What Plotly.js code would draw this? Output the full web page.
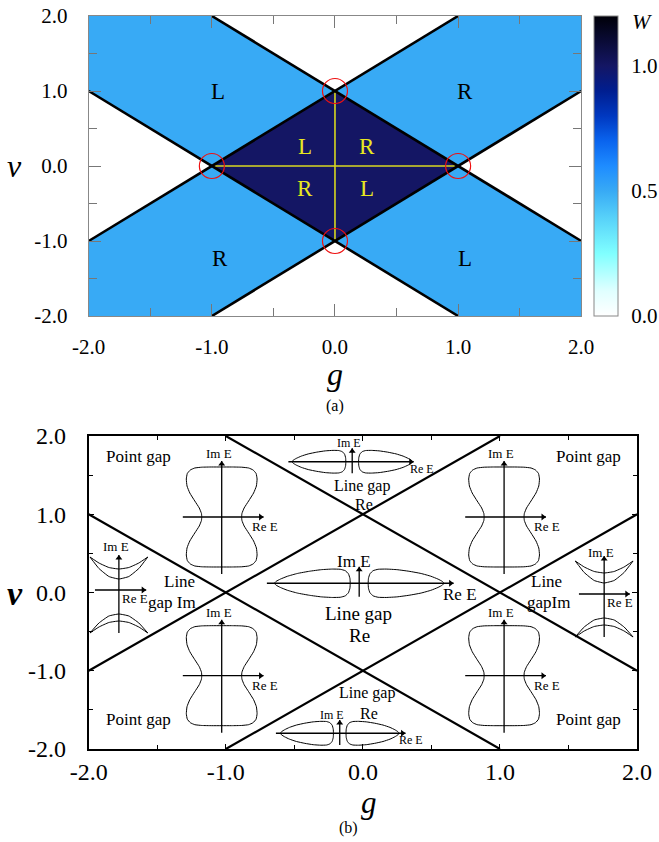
<!DOCTYPE html>
<html><head><meta charset="utf-8">
<script src="https://cdn.plot.ly/plotly-3.0.1.min.js"></script>
<style>html,body{margin:0;padding:0;background:#fff}#chart{width:659px;height:842px}</style>
</head><body><div id="chart"></div><script>
// ---------- figure frame (pixels) ----------
const FIG_W = 659, FIG_H = 842;
const TOP_FRAME = {x0: 89, x1: 583, y0: 16, y1: 316};
const BOT_FRAME = {x0: 89, x1: 639, y0: 436, y1: 749};
const CBAR = {x0: 596, x1: 620};

// ---------- axes ----------
const axisRange = [-2, 2];
const tickVals = [-2, -1, 0, 1, 2];
const tickText = ['-2.0', '-1.0', '0.0', '1.0', '2.0'];
const minorTickVals = [-1.5, -0.5, 0.5, 1.5];

// ---------- phase boundaries (g, v end points) ----------
const boundaryG = [[-2, 1], [-2, 1], [-1, 2], [-1, 2]];
const boundaryV = [[-1, 2], [1, -2], [-2, 1], [2, -1]];

// ---------- winding-number regions (panel a) ----------
const regionW = [1.0, 0.5, 0.5, 0.5, 0.5];
const regionG = [[-1, 0, 1, 0], [-2, -2, -1, 0, -1], [0, 1, 2, 2, 1], [-2, -1, 0, -1, -2], [0, 1, 2, 2, 1]];
const regionV = [[0, 1, 0, -1], [1, 2, 2, 1, 0], [1, 2, 2, 1, 0], [-1, 0, -1, -2, -2], [-1, 0, -1, -2, -2]];

// exceptional points
const epG = [-1, 0, 1, 0];
const epV = [0, 1, 0, -1];
// yellow cross
const yellowG = [-1, 1, null, 0, 0];
const yellowV = [0, 0, null, -1, 1];

// chirality labels
const outerText = ['L', 'R', 'R', 'L'];
const outerG = [-0.95, 1.06, -0.93, 1.055];
const outerV = [0.99, 0.99, -1.23, -1.23];
const innerText = ['L', 'R', 'R', 'L'];
const innerG = [-0.245, 0.262, -0.245, 0.262];
const innerV = [0.257, 0.257, -0.297, -0.297];

// colour bar
const cbRange = [0, 1.2];
const cbTickVals = [0, 0.5, 1.0];
const cbTickText = ['0.0', '0.5', '1.0'];
const wStops = [0, 0.1, 0.25, 0.4, 0.5, 0.6, 0.7, 0.8, 0.9, 1.0, 1.2];
const wColors = ['#ffffff', '#e0ffff', '#80ffff', '#55cff9', '#38aaf5', '#1e8cff', '#0a64ee', '#0038c0', '#001e90', '#141664', '#000008'];

// ---------- panel b : schematic spectra ----------
// point-gap insets (hourglass loops)
const pgG = [-1.03, 1.03, -1.03, 1.03];
const pgV = [0.965, 0.965, -1.063, -1.063];
const hourglassHalf = [[0,-50],[10,-50],[20,-49.8],[27,-49],[31.5,-47],[34.5,-43.5],[35.5,-38],[34.8,-31],[32,-24],[27,-16],[22.5,-9],[20.3,-3.5],[20,0],[20.3,3.5],[22.5,9],[27,16],[32,24],[34.8,31],[35.5,38],[34.5,43.5],[31.5,47],[27,49],[20,49.8],[10,50],[0,50]];
const hgAxisH = [-39, 42];
const hgAxisV = [57, -56];
const hgImLabel = [-3, -63];
const hgReLabel = [43, 10];

// real line-gap insets (two lobes)
const lrG = [-0.078, -0.027, -0.169];
const lrV = [1.671, 0.118, -1.799];
const lrScaleX = [0.71, 1, 0.70];
const lrScaleY = [0.8, 1, 0.84];
const lobeRight = [[9,0],[9.3,-5],[10.8,-9.5],[14,-12.6],[19,-14],[27,-14.2],[38,-13.6],[50,-12],[62,-9.8],[72,-7],[79,-4.2],[83.5,-1.8],[85,0],[83.5,1.8],[79,4.2],[72,7],[62,9.8],[50,12],[38,13.6],[27,14.2],[19,14],[14,12.6],[10.8,9.5],[9.3,5],[9,0]];
const lrAxisH = [[-64, 61.7], [-92.6, 94.7], [-64, 66]];
const lrAxisV = [[11.6, -13.4], [13.4, -16.6], [11.7, -13.3]];
const lrImLabel = [[-3.3, -18.5], [-5.3, -21.5], [-7.4, -18]];
const lrReLabel = [[70, 7.6], [101.4, 11.7], [71, 6.7]];
const lrFont = [12, 17, 12];

// imaginary line-gap insets (crescents)
const liG = [-1.78, 1.76];
const liV = [0.032, -0.019];
const crescentUpperOuter = [[-29,-33],[-20,-27],[-10,-22.5],[0,-21],[10,-22.5],[20,-27],[29,-33]];
const crescentUpperInner = [[-29,-33],[-20,-21.5],[-10,-13.5],[0,-11],[10,-13.5],[20,-21.5],[29,-33]];
const crescentLowerInner = [[-29,43],[-20,33],[-10,26],[0,24],[10,26],[20,33],[29,43]];
const crescentLowerOuter = [[-29,43],[-20,37],[-10,32.5],[0,31],[10,32.5],[20,37],[29,43]];
const liAxisH = [[-24, 27.4], [-25.3, 25.7]];
const liAxisV = [[43, -35], [43, -38]];
const liImLabel = [[-2.6, -43.3], [-3, -41.3]];
const liReLabel = [[15.7, 8.5], [15.7, 8.5]];

// regime labels
const regimeText = ['Point gap','Point gap','Point gap','Point gap','Line gap','Re','Line gap','Re','Line gap','Re','Line','gap Im','Line','gapIm'];
const regimeG = [-1.639, 1.649, -1.636, 1.649, -0.005, 0.007, -0.029, -0.025, 0.033, 0.044, -1.338, -1.389, 1.340, 1.353];
const regimeV = [1.744, 1.735, -1.62, -1.62, 1.36, 1.12, -0.27, -0.55, -1.29, -1.545, 0.14, -0.13, 0.14, -0.13];
const regimeSize = [17,17,17,17,16,16,19,19,16,16,17,17,17,17];

// ---------- helpers ----------
const serif = 'Liberation Serif, Times New Roman, serif';
const px = x => x / FIG_W;
const py = y => 1 - y / FIG_H;
function hexToRgb(h){return [parseInt(h.slice(1,3),16),parseInt(h.slice(3,5),16),parseInt(h.slice(5,7),16)];}
function colorAt(w){
  for(let i=0;i<wStops.length-1;i++){
    if(w<=wStops[i+1]){
      const t=(w-wStops[i])/(wStops[i+1]-wStops[i]);
      const a=hexToRgb(wColors[i]), b=hexToRgb(wColors[i+1]);
      return 'rgb('+a.map((v,k)=>Math.round(v+(b[k]-v)*t)).join(',')+')';
    }
  }
  return wColors[wColors.length-1];
}
const colorscale = wStops.map((s,i)=>[(s-cbRange[0])/(cbRange[1]-cbRange[0]), wColors[i]]);

const BX = (BOT_FRAME.x1-BOT_FRAME.x0)/(axisRange[1]-axisRange[0]);
const BY = (BOT_FRAME.y1-BOT_FRAME.y0)/(axisRange[1]-axisRange[0]);
function place(cx, cy, pts, sx, sy){
  sx = sx||1; sy = sy||1;
  return {x: pts.map(p=>cx+p[0]*sx/BX), y: pts.map(p=>cy-p[1]*sy/BY)};
}
function joinPaths(list){
  const out={x:[],y:[]};
  list.forEach((p,i)=>{ if(i){out.x.push(null);out.y.push(null);} out.x.push(...p.x); out.y.push(...p.y); });
  return out;
}
const mirror = pts => pts.map(p=>[-p[0],p[1]]);

const traces = [];
const annotations = [];
function ann(x, y, text, size, extra){
  annotations.push(Object.assign({x:x, y:y, xref:'x2', yref:'y2', text:text, showarrow:false,
    font:{family:serif, size:size, color:'#000'}, xanchor:'center', yanchor:'middle'}, extra||{}));
}

// ---------- panel a ----------
regionW.forEach((w,i)=>{
  traces.push({type:'scatter', mode:'lines', x:regionG[i].concat([regionG[i][0]]), y:regionV[i].concat([regionV[i][0]]),
    fill:'toself', fillcolor:colorAt(w), line:{width:0, color:colorAt(w)}, hoverinfo:'skip', xaxis:'x', yaxis:'y'});
});
traces.push({type:'scatter', mode:'lines', x:yellowG, y:yellowV, line:{color:'#d8d820', width:1.6}, hoverinfo:'skip', xaxis:'x', yaxis:'y'});
const bTop = joinPaths(boundaryG.map((g,i)=>({x:g, y:boundaryV[i]})));
traces.push({type:'scatter', mode:'lines', x:bTop.x, y:bTop.y, line:{color:'#000', width:2.6}, hoverinfo:'skip', xaxis:'x', yaxis:'y'});
traces.push({type:'scatter', mode:'markers', x:epG, y:epV, marker:{symbol:'circle-open', size:25, color:'#ee1111', line:{width:1.2, color:'#ee1111'}}, hoverinfo:'skip', xaxis:'x', yaxis:'y'});
traces.push({type:'scatter', mode:'markers', x:[0], y:[0], marker:{size:1, opacity:0, color:[0], cmin:cbRange[0], cmax:cbRange[1], colorscale:colorscale, showscale:true,
  colorbar:{thickness:CBAR.x1-CBAR.x0, thicknessmode:'pixels', len:TOP_FRAME.y1-TOP_FRAME.y0, lenmode:'pixels', x:px(CBAR.x0), xanchor:'left',
    y:py((TOP_FRAME.y0+TOP_FRAME.y1)/2), yanchor:'middle', xpad:0, ypad:0, outlinewidth:1, outlinecolor:'#888',
    tickvals:cbTickVals, ticktext:cbTickText, ticks:'outside', ticklen:9, tickcolor:'rgba(0,0,0,0)', tickfont:{family:serif, size:21, color:'#000'}}},
  hoverinfo:'skip', xaxis:'x', yaxis:'y'});
outerText.forEach((t,i)=>annotations.push({x:outerG[i], y:outerV[i], xref:'x', yref:'y', text:t, showarrow:false, font:{family:serif, size:23, color:'#000'}}));
innerText.forEach((t,i)=>annotations.push({x:innerG[i], y:innerV[i], xref:'x', yref:'y', text:t, showarrow:false, font:{family:serif, size:23, color:'#e8e820'}}));

// ---------- panel b ----------
const bBot = joinPaths(boundaryG.map((g,i)=>({x:g, y:boundaryV[i]})));
traces.push({type:'scatter', mode:'lines', x:bBot.x, y:bBot.y, line:{color:'#000', width:2.2}, hoverinfo:'skip', xaxis:'x2', yaxis:'y2'});

const hourglass = hourglassHalf.concat(mirror(hourglassHalf).reverse().slice(1));
const curvePaths = [];
const axisPaths = [];
const heads = {x:[], y:[], s:[]};
function addAxes(cx, cy, h, v){
  axisPaths.push(place(cx, cy, [[h[0],0],[h[1],0]]));
  axisPaths.push(place(cx, cy, [[0,v[0]],[0,v[1]]]));
  const hh = place(cx, cy, [[h[1]-3,0]]); heads.x.push(hh.x[0]); heads.y.push(hh.y[0]); heads.s.push('triangle-right');
  const vh = place(cx, cy, [[0,v[1]+3]]); heads.x.push(vh.x[0]); heads.y.push(vh.y[0]); heads.s.push('triangle-up');
}
function labelAt(cx, cy, off, text, size){
  const p = place(cx, cy, [off]);
  ann(p.x[0], p.y[0], text, size);
}
pgG.forEach((g,i)=>{
  curvePaths.push(place(g, pgV[i], hourglass));
  addAxes(g, pgV[i], hgAxisH, hgAxisV);
  labelAt(g, pgV[i], hgImLabel, 'Im E', 13);
  labelAt(g, pgV[i], hgReLabel, 'Re E', 13);
});
lrG.forEach((g,i)=>{
  curvePaths.push(place(g, lrV[i], lobeRight, lrScaleX[i], lrScaleY[i]));
  curvePaths.push(place(g, lrV[i], mirror(lobeRight), lrScaleX[i], lrScaleY[i]));
  addAxes(g, lrV[i], lrAxisH[i], lrAxisV[i]);
  labelAt(g, lrV[i], lrImLabel[i], 'Im E', lrFont[i]);
  labelAt(g, lrV[i], lrReLabel[i], 'Re E', lrFont[i]);
});
liG.forEach((g,i)=>{
  [crescentUpperOuter, crescentUpperInner, crescentLowerInner, crescentLowerOuter].forEach(c=>curvePaths.push(place(g, liV[i], c)));
  addAxes(g, liV[i], liAxisH[i], liAxisV[i]);
  labelAt(g, liV[i], liImLabel[i], 'Im E', 13);
  labelAt(g, liV[i], liReLabel[i], 'Re E', 13);
});
const curves = joinPaths(curvePaths);
traces.push({type:'scatter', mode:'lines', x:curves.x, y:curves.y, line:{color:'#000', width:1, shape:'spline', smoothing:0.4}, hoverinfo:'skip', xaxis:'x2', yaxis:'y2'});
const axesP = joinPaths(axisPaths);
traces.push({type:'scatter', mode:'lines', x:axesP.x, y:axesP.y, line:{color:'#000', width:1.3}, hoverinfo:'skip', xaxis:'x2', yaxis:'y2'});
traces.push({type:'scatter', mode:'markers', x:heads.x, y:heads.y, marker:{symbol:heads.s, size:6, color:'#000', line:{width:0}}, hoverinfo:'skip', xaxis:'x2', yaxis:'y2'});
regimeText.forEach((t,i)=>ann(regimeG[i], regimeV[i], t, regimeSize[i]));

// ---------- axis titles & panel labels ----------
function paperAnn(x, y, text, size){
  annotations.push({x:px(x), y:py(y), xref:'paper', yref:'paper', text:text, showarrow:false, font:{family:serif, size:size, color:'#000'}, xanchor:'center', yanchor:'middle'});
}
paperAnn(15, 166, '<i>v</i>', 32);
paperAnn(336, 374, '<i>g</i>', 32);
paperAnn(336, 406, '(a)', 16);
paperAnn(644, 22, '<i>W</i>', 22);
paperAnn(15, 593, '<b><i>v</i></b>', 34);
paperAnn(370, 802, '<i>g</i>', 31);
paperAnn(350, 828, '(b)', 16);

// dashed ticks inside the colour bar
const cbShapes = cbTickVals.filter(v=>v>0).map(v=>{
  const yy = TOP_FRAME.y1 - (v-cbRange[0])/(cbRange[1]-cbRange[0])*(TOP_FRAME.y1-TOP_FRAME.y0);
  return {type:'line', xref:'paper', yref:'paper', x0:px(CBAR.x0), x1:px(CBAR.x1), y0:py(yy), y1:py(yy), line:{color:'rgba(20,20,70,0.85)', width:1, dash:'9px,8px'}};
});

function axisStyle(domain, anchor, opts){
  return Object.assign({domain:domain, anchor:anchor, range:axisRange, tickvals:tickVals, ticktext:tickText,
    showgrid:false, zeroline:false, showline:true, mirror:'ticks', layer:'above traces', fixedrange:true}, opts);
}
const layout = {
  width:FIG_W, height:FIG_H, margin:{l:0, r:0, t:0, b:0}, paper_bgcolor:'#fff', plot_bgcolor:'#fff', showlegend:false,
  xaxis: axisStyle([px(TOP_FRAME.x0), px(TOP_FRAME.x1)], 'y', {ticks:'inside', ticklen:12, tickwidth:1, tickcolor:'#777', linecolor:'#888', linewidth:1,
    minor:{tickvals:minorTickVals, ticks:'inside', ticklen:8, tickcolor:'#777', tickwidth:1}, tickfont:{family:serif, size:21, color:'#000'}, ticklabelstandoff:12}),
  yaxis: axisStyle([py(TOP_FRAME.y1), py(TOP_FRAME.y0)], 'x', {ticks:'inside', ticklen:12, tickwidth:1, tickcolor:'#777', linecolor:'#888', linewidth:1,
    minor:{tickvals:minorTickVals, ticks:'inside', ticklen:8, tickcolor:'#777', tickwidth:1}, tickfont:{family:serif, size:21, color:'#000'}, ticklabelstandoff:16}),
  xaxis2: axisStyle([px(BOT_FRAME.x0), px(BOT_FRAME.x1)], 'y2', {ticks:'inside', ticklen:5, tickwidth:1, tickcolor:'#000', linecolor:'#000', linewidth:2,
    minor:{tickvals:minorTickVals, ticks:'inside', ticklen:4, tickcolor:'#000', tickwidth:1}, tickfont:{family:serif, size:24, color:'#000'}, ticklabelstandoff:0}),
  yaxis2: axisStyle([py(BOT_FRAME.y1), py(BOT_FRAME.y0)], 'x2', {ticks:'inside', ticklen:5, tickwidth:1, tickcolor:'#000', linecolor:'#000', linewidth:2,
    minor:{tickvals:minorTickVals, ticks:'inside', ticklen:4, tickcolor:'#000', tickwidth:1}, tickfont:{family:serif, size:24, color:'#000'}, ticklabelstandoff:16}),
  annotations: annotations,
  shapes: cbShapes
};
Plotly.newPlot('chart', traces, layout, {staticPlot:true, displayModeBar:false});
</script></body></html>
